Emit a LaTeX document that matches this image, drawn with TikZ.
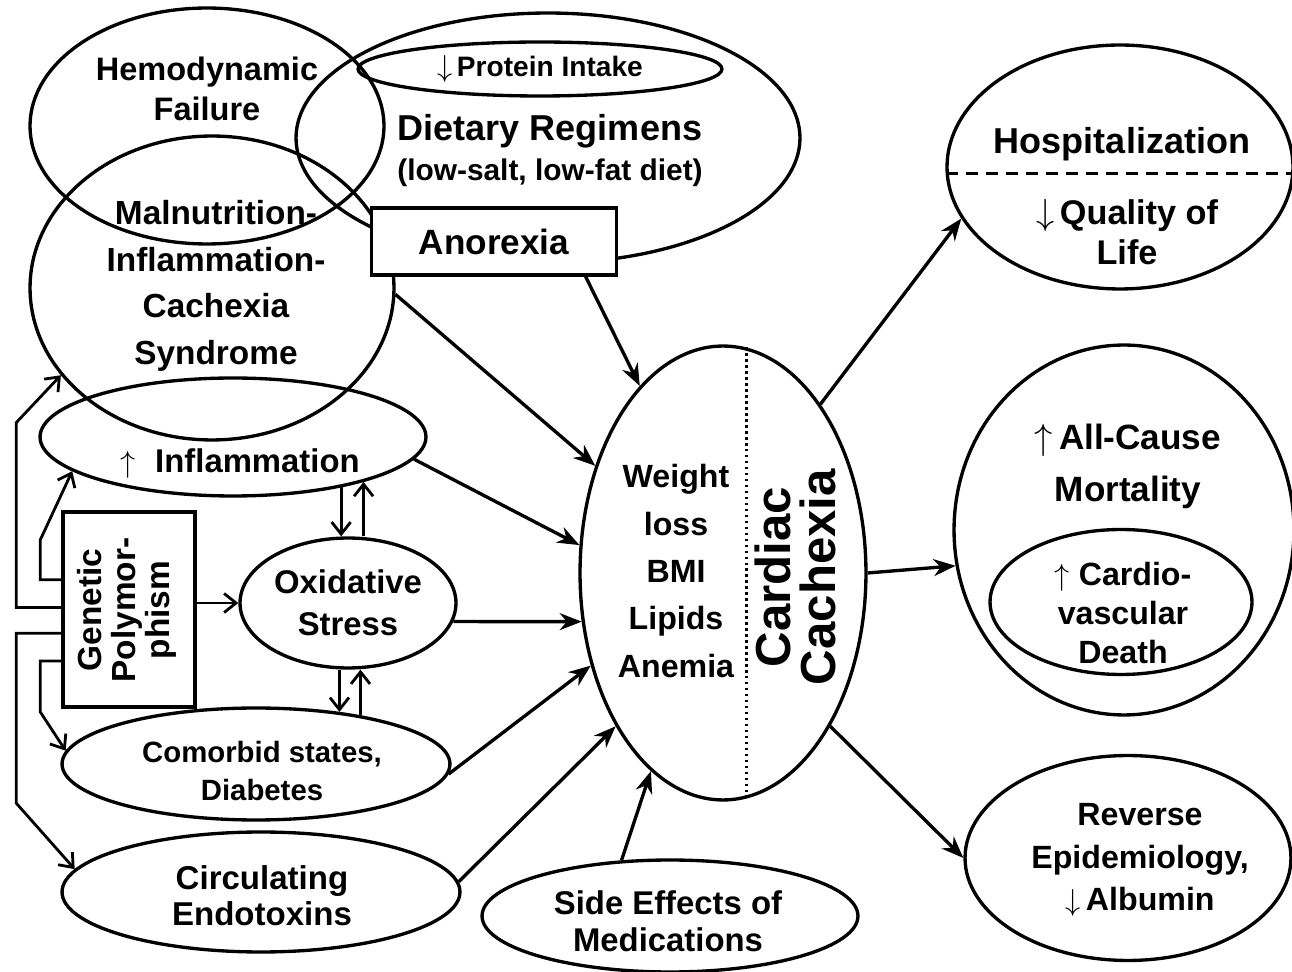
\documentclass[tikz,border=0pt]{standalone}
\usepackage{fontspec}
\setmainfont{Liberation Sans}
\usetikzlibrary{arrows.meta,shapes.geometric,calc}
\newcommand{\setfsz}[2]{\fontsize{#1}{#2}\selectfont\bfseries}
\newcommand{\up}{$\uparrow$}
\newcommand{\down}{$\downarrow$}
\tikzset{
  oval/.style={draw, ellipse, line width=1.9pt, inner sep=0pt, align=center},
  box/.style={draw, rectangle, line width=1.9pt, inner sep=0pt, fill=white},
  lbl/.style={align=center, inner sep=0pt},
  arrow/.style={-{Stealth[length=4.4mm,width=3.4mm]}, line width=1.9pt},
  thinarr/.style={-{Straight Barb[length=2.4mm,width=3.8mm]}, line width=1.6pt}
}

\begin{document}
\begin{tikzpicture}[x=0.02cm, y=-0.02cm]
  \useasboundingbox (0,0) rectangle (1292,972);
  % causes
  \node[oval, minimum width=7.08cm, minimum height=4.72cm] (hemo) at (207,126) {};
  \node[lbl, font=\setfsz{18.5}{22.8}] (hemotxt) at (207,89) {Hemodynamic\\Failure};
  \node[oval, minimum width=10.08cm, minimum height=5cm] (diet) at (548,138) {};
  \node[lbl, font=\setfsz{20.5}{22.8}] (diettxt) at (550,151) {Dietary Regimens\\{\setfsz{17}{22.8}(low-salt, low-fat diet)}};
  \node[oval, minimum width=7.28cm, minimum height=1.08cm, font=\setfsz{16}{19}] (protein) at (540,69) {\down\,Protein Intake};
  \node[oval, minimum width=7.28cm, minimum height=6.08cm] (malnut) at (212,288) {};
  \node[lbl, font=\setfsz{19}{26.5}] (malnuttxt) at (216,286) {Malnutrition-\\Inflammation-\\Cachexia\\Syndrome};
  \node[box, minimum width=4.9cm, minimum height=1.34cm, font=\setfsz{20}{24}] (anorexia) at (494,241.5) {Anorexia};
  \node[oval, minimum width=7.72cm, minimum height=2.36cm] (infl) at (233,437) {};
  \node[lbl, font=\setfsz{18.7}{22}] (infltxt) at (240,464) {\up\hspace{0.6em}Inflammation};
  \node[box, minimum width=2.64cm, minimum height=3.9cm] (genetic) at (129,609.5) {};
  \node[lbl, rotate=90, font=\setfsz{19}{19.4}] (genetictxt) at (127,610) {Genetic\\Polymor-\\phism};
  \node[oval, minimum width=4.32cm, minimum height=2.6cm, font=\setfsz{18.7}{24}] (oxid) at (348,603) {Oxidative\\Stress};
  \node[oval, minimum width=7.76cm, minimum height=2.24cm] (comorb) at (256,764) {};
  \node[lbl, font=\setfsz{16.7}{21.6}] (comorbtxt) at (262,771) {Comorbid states,\\Diabetes};
  \node[oval, minimum width=7.96cm, minimum height=2.4cm] (circ) at (261,892) {};
  \node[lbl, font=\setfsz{18.8}{20.5}] (circtxt) at (262,896) {Circulating\\Endotoxins};
  \node[oval, minimum width=7.52cm, minimum height=2.24cm] (side) at (670,916) {};
  \node[lbl, font=\setfsz{18.7}{21}] (sidetxt) at (668,921) {Side Effects of\\Medications};

  % cardiac cachexia
  \node[oval, minimum width=5.72cm, minimum height=9.08cm] (cach) at (723,573) {};
  \draw[dotted, line width=1.4pt] (cach.84) -- (cach.-84);
  \node[lbl, font=\setfsz{18.3}{27}] (cachtxt) at (676,571) {Weight\\loss\\BMI\\Lipids\\Anemia};
  \node[lbl, rotate=90, font=\setfsz{28}{25.6}] (cardtxt) at (795,577) {Cardiac\\Cachexia};

  % outcomes
  \node[oval, minimum width=6.92cm, minimum height=4.88cm] (hosp) at (1120,167) {};
  \draw[dashed, dash pattern=on 0.24cm off 0.16cm, line width=1.7pt] (hosp.182) -- (hosp.-2);
  \node[lbl, font=\setfsz{20.5}{24}] (hosptxt) at (1122,144) {Hospitalization};
  \node[lbl, font=\setfsz{19.5}{22.8}] (qualtxt) at (1127,232) {\down\,Quality of\\Life};
  \node[oval, minimum width=6.8cm, minimum height=7.4cm] (mort) at (1124,530) {};
  \node[lbl, font=\setfsz{20}{29.6}] (morttxt) at (1128,466) {\up\,All-Cause\\Mortality};
  \node[oval, minimum width=5.24cm, minimum height=2.9cm] (cardio) at (1121,602) {};
  \node[lbl, font=\setfsz{18.3}{22}] (cardiotxt) at (1123,613) {\up\ Cardio-\\vascular\\Death};
  \node[oval, minimum width=6.52cm, minimum height=4.1cm] (rev) at (1128,858) {};
  \node[lbl, font=\setfsz{18.3}{24}] (revtxt) at (1140,860) {Reverse\\Epidemiology,\\\down\,Albumin};

  % into cardiac cachexia
  \draw[arrow] (malnut.-2) -- (cach.140);
  \draw[arrow] (anorexia.-21) -- (cach.114);
  \draw[arrow] (infl.-7) -- (cach.169);
  \draw[arrow] (oxid.-10) -- (cach.199);
  \draw[arrow] (comorb.-3) -- (cach.215);
  \draw[arrow] (circ.3) -- (cach.235);
  \draw[arrow] (side.131) -- (cach.250);

  % out of cardiac cachexia
  \draw[arrow] (cach.60) -- (hosp.198);
  \draw[arrow] (cach.east) -- (mort.192);
  \draw[arrow] (cach.-55) -- (rev.west);

  % inflammation / oxidative stress / comorbid states
  \draw[thinarr] (infl.-25) -- (infl.-25 |- oxid.north);
  \draw[thinarr] (infl.-19 |- oxid.north) -- (infl.-19);
  \draw[thinarr] (comorb.32 |- oxid.south) -- (comorb.32);
  \draw[thinarr] (comorb.25) -- (comorb.25 |- oxid.south);

  % genetic polymorphism
  \draw[thinarr] (genetic.east |- oxid.west) -- (oxid.west);
  \draw[thinarr] ($(genetic.north west)!.49!(genetic.south west)$) -| ++(-45,-185) -- (malnut.210);
  \draw[thinarr] ($(genetic.north west)!.35!(genetic.south west)$) -| ++(-21,-40) -- (infl.192);
  \draw[thinarr] ($(genetic.north west)!.62!(genetic.south west)$) -| ++(-45,170) -- (circ.173);
  \draw[thinarr] ($(genetic.north west)!.76!(genetic.south west)$) -| ++(-21,51) -- (comorb.176);
\end{tikzpicture}
\end{document}
